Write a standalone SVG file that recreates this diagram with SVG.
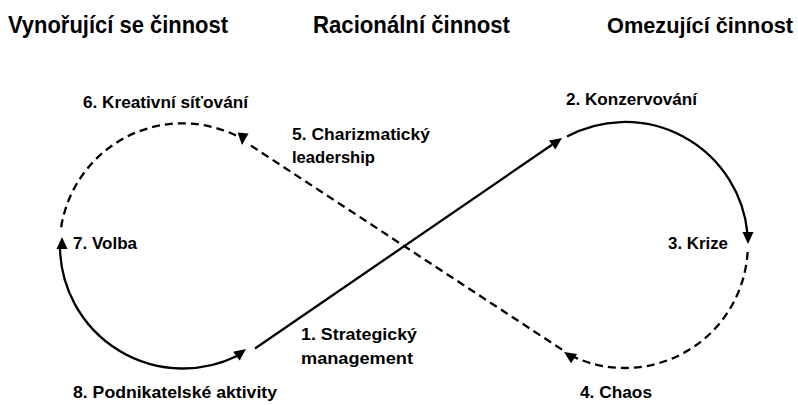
<svg xmlns="http://www.w3.org/2000/svg" xmlns:xlink="http://www.w3.org/1999/xlink" width="798" height="405" viewBox="0 0 798 405">
<style>
text{font-family:"Liberation Sans",Arial,sans-serif;font-weight:bold;fill:#000}
.title{font-size:23px}
.lbl{font-size:16.5px}
.ln{fill:none;stroke:#000;stroke-width:2.3}
.dash{stroke-dasharray:8 5}
.ah{fill:#000}
</style>
<defs>
<path id="ah" d="M0 0 L-12 -5.5 L-12 5.5 Z"/>
</defs>
<rect width="798" height="405" fill="#fff"/>
<g id="titles">
<text class="title" x="8" y="33" textLength="220" lengthAdjust="spacingAndGlyphs">Vynořující se činnost</text>
<text class="title" x="313" y="33" textLength="197" lengthAdjust="spacingAndGlyphs">Racionální činnost</text>
<text class="title" x="607" y="33" style="font-size:22px" textLength="186" lengthAdjust="spacingAndGlyphs">Omezující činnost</text>
</g>
<g id="connectors">
<path class="ln" d="M60,249 A123,123 0 0 0 237,356"/>
<path class="ln" d="M255,348.5 L552,144.8"/>
<path class="ln" d="M567,136.5 A123,123 0 0 1 747.4,233"/>
<path class="ln dash" d="M747.6,252 A123,123 0 0 1 574,357"/>
<path class="ln dash" d="M562,349.6 L250,145"/>
<path class="ln dash" d="M236,135.5 A123,123 0 0 0 60.5,232"/>
<use class="ah" xlink:href="#ah" transform="translate(246,349) rotate(-37)"/>
<use class="ah" xlink:href="#ah" transform="translate(562,138) rotate(-35)"/>
<use class="ah" xlink:href="#ah" transform="translate(748,244) rotate(90)"/>
<use class="ah" xlink:href="#ah" transform="translate(564,352) rotate(-147)"/>
<use class="ah" xlink:href="#ah" transform="translate(242,145) rotate(95)"/>
<use class="ah" xlink:href="#ah" transform="translate(62,237) rotate(-90)"/>
</g>
<g id="n1"><text class="lbl" x="301" y="340" textLength="116" lengthAdjust="spacingAndGlyphs">1. Strategický</text><text class="lbl" x="301" y="364" textLength="112" lengthAdjust="spacingAndGlyphs">management</text></g>
<g id="n2"><text class="lbl" x="566" y="105" textLength="131" lengthAdjust="spacingAndGlyphs">2. Konzervování</text></g>
<g id="n3"><text class="lbl" x="668" y="249" textLength="60" lengthAdjust="spacingAndGlyphs">3. Krize</text></g>
<g id="n4"><text class="lbl" x="580" y="398" textLength="72" lengthAdjust="spacingAndGlyphs">4. Chaos</text></g>
<g id="n5"><text class="lbl" x="292" y="140" textLength="138" lengthAdjust="spacingAndGlyphs">5. Charizmatický</text><text class="lbl" x="292" y="163" textLength="83" lengthAdjust="spacingAndGlyphs">leadership</text></g>
<g id="n6"><text class="lbl" x="83" y="108" textLength="165" lengthAdjust="spacingAndGlyphs">6. Kreativní síťování</text></g>
<g id="n7"><text class="lbl" x="73" y="249" textLength="64" lengthAdjust="spacingAndGlyphs">7. Volba</text></g>
<g id="n8"><text class="lbl" x="73" y="398" textLength="204" lengthAdjust="spacingAndGlyphs">8. Podnikatelské aktivity</text></g>
</svg>
